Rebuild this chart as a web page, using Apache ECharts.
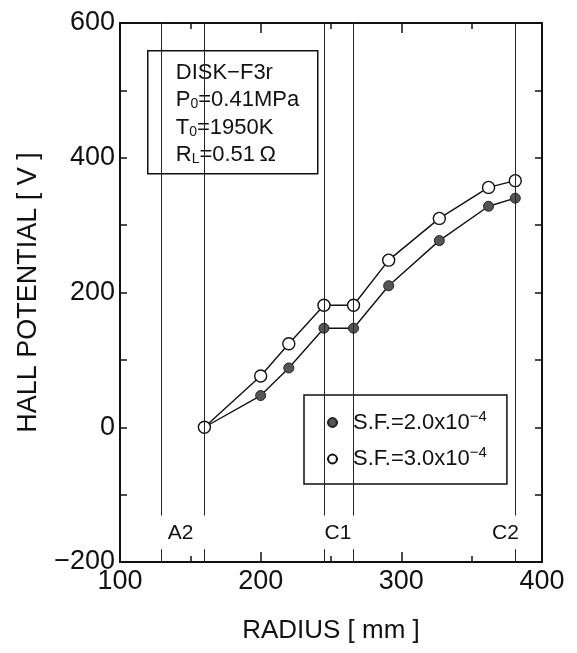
<!DOCTYPE html>
<html>
<head>
<meta charset="utf-8">
<script src="https://cdn.jsdelivr.net/npm/echarts@6/dist/echarts.min.js"></script>
<style>
  html, body { margin: 0; padding: 0; background: #fff; }
  #chart { width: 577px; height: 653px; }
</style>
</head>
<body>
<div id="chart"></div>
<script>
// 数据
const radius = [160, 200, 220, 245, 266, 291, 327, 362, 381];
const hallSF2 = [0, 47, 88, 147, 147, 210, 277, 328, 340];
const hallSF3 = [0, 76, 124, 181, 181, 248, 310, 356, 366];
const boundaryR = [129, 160, 245, 266, 381];
const zoneNames = ['A2', 'C1', 'C2'];
const zoneR = [143, 255, 374];
const zoneY = -158;
const seriesNames = ['S.F.=2.0x10^-4', 'S.F.=3.0x10^-4'];

const FONT = 'Liberation Sans, Arial, Helvetica, sans-serif';
const chart = echarts.init(document.getElementById('chart'));

// 边界竖线（中间留出标签空隙）
const boundaryLines = [];
boundaryR.forEach(r => {
  boundaryLines.push([{ coord: [r, -131] }, { coord: [r, 600] }]);
  boundaryLines.push([{ coord: [r, -200] }, { coord: [r, -181] }]);
});

const axisBase = {
  axisLine: { show: true, onZero: false, lineStyle: { color: '#111', width: 2 } },
  splitLine: { show: false }
};

const option = {
  backgroundColor: '#fff',
  animation: false,
  grid: { left: 120, right: 35, top: 23, bottom: 91 },
  xAxis: [
    Object.assign({}, axisBase, {
      type: 'value', min: 100, max: 400, interval: 100,
      name: 'RADIUS [ mm ]', nameLocation: 'middle', nameGap: 56,
      nameTextStyle: { fontFamily: FONT, fontSize: 26, color: '#111' },
      axisTick: { inside: true, length: 10, lineStyle: { color: '#111', width: 1.5 } },
      minorTick: { show: true, splitNumber: 2, length: 6, lineStyle: { color: '#111', width: 1.5 } },
      axisLabel: { fontFamily: FONT, fontSize: 27, color: '#111', margin: 6 }
    }),
    Object.assign({}, axisBase, {
      type: 'value', min: 100, max: 400, interval: 100, position: 'top',
      axisTick: { inside: true, length: 10, lineStyle: { color: '#111', width: 1.5 } },
      minorTick: { show: true, splitNumber: 2, length: 6, lineStyle: { color: '#111', width: 1.5 } },
      axisLabel: { show: false }
    })
  ],
  yAxis: [
    Object.assign({}, axisBase, {
      type: 'value', min: -200, max: 600, interval: 200,
      name: 'HALL POTENTIAL [ V ]', nameLocation: 'middle', nameGap: 78, nameRotate: 90,
      nameTextStyle: { fontFamily: FONT, fontSize: 27, color: '#111' },
      axisTick: { inside: true, length: 7, lineStyle: { color: '#111', width: 1.5 } },
      minorTick: { show: true, splitNumber: 2, length: 7, lineStyle: { color: '#111', width: 1.5 } },
      axisLabel: {
        fontFamily: FONT, fontSize: 27, color: '#111', margin: 5,
        formatter: v => (v < 0 ? '\u2212' + Math.abs(v) : String(v))
      }
    }),
    Object.assign({}, axisBase, {
      type: 'value', min: -200, max: 600, interval: 200, position: 'right',
      axisTick: { inside: true, length: 7, lineStyle: { color: '#111', width: 1.5 } },
      minorTick: { show: true, splitNumber: 2, length: 7, lineStyle: { color: '#111', width: 1.5 } },
      axisLabel: { show: false }
    })
  ],
  legend: {
    orient: 'vertical',
    left: 304, top: 395,
    data: seriesNames,
    itemWidth: 11, itemHeight: 11, itemGap: 12,
    padding: [14, 20, 14, 22],
    backgroundColor: '#fff',
    borderColor: '#111', borderWidth: 1.5, borderRadius: 0,
    formatter: name => name === seriesNames[0]
      ? '{a|S.F.=2.0x10}{b|\u22124}'
      : '{a|S.F.=3.0x10}{b|\u22124}',
    textStyle: {
      fontFamily: FONT, color: '#111',
      rich: {
        a: { fontFamily: FONT, fontSize: 22, color: '#111', padding: [0, 0, 0, 10] },
        b: { fontFamily: FONT, fontSize: 15, color: '#111', padding: [0, 0, 12, 0] }
      }
    }
  },
  series: [
    {
      name: 'bounds', type: 'line', data: [], silent: true,
      markLine: {
        silent: true, symbol: ['none', 'none'], label: { show: false },
        lineStyle: { color: '#222', width: 1, type: 'solid' },
        data: boundaryLines
      }
    },
    {
      name: seriesNames[0], type: 'line', z: 3,
      data: radius.map((r, i) => [r, hallSF2[i]]),
      symbol: 'circle', symbolSize: 10,
      lineStyle: { color: '#111', width: 1.4 },
      itemStyle: { color: '#555', borderColor: '#222', borderWidth: 1 }
    },
    {
      name: seriesNames[1], type: 'line', z: 4,
      data: radius.map((r, i) => [r, hallSF3[i]]),
      symbol: 'circle', symbolSize: 12,
      lineStyle: { color: '#111', width: 1.4 },
      itemStyle: { color: '#fff', borderColor: '#111', borderWidth: 1.4 }
    },
    {
      name: 'zones', type: 'scatter', symbolSize: 0, silent: true,
      itemStyle: { opacity: 1 },
      data: zoneNames.map((n, i) => ({ name: n, value: [zoneR[i], zoneY] })),
      label: {
        show: true, position: 'inside', formatter: '{b}',
        fontFamily: FONT, fontSize: 21, color: '#111'
      }
    }
  ],
  graphic: [
    {
      type: 'group', left: 147, top: 50, z: 100,
      children: [
        {
          type: 'rect', shape: { x: 0, y: 0, width: 170, height: 123 },
          style: { fill: '#fff', stroke: '#111', lineWidth: 1.5 }
        },
        {
          type: 'text', x: 28, y: 8,
          style: {
            text: '{n|DISK\u2212F3r}\n{n|P}{s|0}{n|=0.41MPa}\n{n|T}{s|0}{n|=1950K}\n{n|R}{s|L}{n|=0.51\u2009\u03a9}',
            fill: '#111',
            rich: {
              n: { fontFamily: FONT, fontSize: 22, lineHeight: 27.5, fill: '#111' },
              s: { fontFamily: FONT, fontSize: 14, lineHeight: 27.5, fill: '#111', padding: [9, 0, 0, 0] }
            }
          }
        }
      ]
    }
  ]
};

chart.setOption(option);
</script>
</body>
</html>
